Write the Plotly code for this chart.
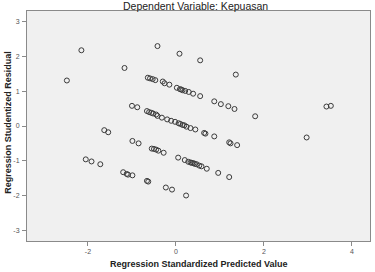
import plotly.graph_objects as go

# Regression Standardized Predicted Value (x) and Studentized Residual (y)
pred_x = [
    -2.48, -2.15, -1.17, -0.42, 0.08, 0.55, 1.36, 1.80, 3.42, 3.52, 2.97,
    # band A
    -0.64, -0.59, -0.53, -0.47, -0.30, -0.26, -0.15, 0.02, 0.09, 0.12, 0.15,
    0.21, 0.29, 0.39, 0.55, 0.87, 1.02, 1.19, 1.33,
    # band B
    -1.00, -0.88, -0.66, -0.61, -0.56, -0.52, -0.45, -0.42, -0.32, -0.20, -0.11,
    -0.02, 0.06, 0.10, 0.15, 0.19, 0.24, 0.33, 0.44, 0.64, 0.67, 0.87, 1.21,
    1.24, 1.39,
    # band C
    -1.63, -1.54, -0.99, -0.85, -0.55, -0.50, -0.45, -0.40, -0.28, 0.05, 0.20,
    0.28, 0.33, 0.36, 0.40, 0.43, 0.47, 0.53, 0.58, 0.70, 0.96, 1.21,
    # band D
    -2.05, -1.92, -1.72, -1.20, -1.12, -1.09, -0.99, -0.66, -0.63, -0.23, -0.09,
    0.23,
]
resid_y = [
    1.31, 2.18, 1.67, 2.30, 2.08, 1.89, 1.48, 0.28, 0.56, 0.58, -0.33,
    # band A
    1.39, 1.37, 1.35, 1.32, 1.28, 1.23, 1.19, 1.10, 1.06, 1.05, 1.03,
    1.01, 0.98, 0.93, 0.86, 0.71, 0.63, 0.57, 0.49,
    # band B
    0.58, 0.54, 0.43, 0.40, 0.38, 0.36, 0.33, 0.29, 0.24, 0.19, 0.15,
    0.12, 0.08, 0.06, 0.03, 0.02, -0.02, -0.06, -0.10, -0.20, -0.22, -0.30, -0.47,
    -0.50, -0.55,
    # band C
    -0.12, -0.18, -0.43, -0.50, -0.65, -0.66, -0.68, -0.71, -0.77, -0.91, -0.98,
    -1.03, -1.05, -1.06, -1.07, -1.09, -1.10, -1.14, -1.16, -1.23, -1.35, -1.47,
    # band D
    -0.96, -1.02, -1.10, -1.33, -1.38, -1.40, -1.42, -1.58, -1.60, -1.77, -1.83,
    -2.00,
]

x_ticks = [-2, 0, 2, 4]
y_ticks = [-3, -2, -1, 0, 1, 2, 3]

title_text = "Dependent Variable: Kepuasan"
x_title = "Regression Standardized Predicted Value"
y_title = "Regression Studentized Residual"

fig = go.Figure()
fig.add_trace(go.Scatter(
    x=pred_x, y=resid_y, mode="markers",
    marker=dict(symbol="circle-open", size=5, color="#3a3a3a",
                line=dict(width=1, color="#3a3a3a")),
    showlegend=False, hoverinfo="skip",
))

axis_common = dict(
    showgrid=False, zeroline=False, showline=True, mirror=True,
    linecolor="#8a8a8a", linewidth=1,
    ticks="outside", ticklen=4, tickcolor="#8a8a8a", tickwidth=1,
    tickfont=dict(family="Liberation Sans, Arial, sans-serif", size=7, color="#555555"),
)

fig.update_layout(
    width=375, height=272,
    margin=dict(l=27, r=5, t=11, b=31),
    paper_bgcolor="white",
    plot_bgcolor="#f0f0f0",
    xaxis=dict(range=[-3.386, 4.41], tickvals=x_ticks, ticktext=[str(v) for v in x_ticks],
               **axis_common),
    yaxis=dict(range=[-3.31, 3.31], tickvals=y_ticks, ticktext=[str(v) for v in y_ticks],
               ticklabelstandoff=1, **axis_common),
    annotations=[
        dict(text=title_text, xref="paper", yref="paper", x=0.49, y=(241 - 5.5) / 230,
             xanchor="center", yanchor="middle", showarrow=False,
             font=dict(family="Liberation Sans, Arial, sans-serif", size=10.5, color="#222222")),
        dict(text="<b>" + x_title + "</b>", xref="paper", yref="paper", x=0.5, y=-0.1,
             xanchor="center", yanchor="middle", showarrow=False,
             font=dict(family="Liberation Sans, Arial, sans-serif", size=9, color="#222222")),
        dict(text="<b>" + y_title + "</b>", xref="paper", yref="paper", x=-0.058, y=0.515,
             xanchor="center", yanchor="middle", showarrow=False, textangle=-90,
             font=dict(family="Liberation Sans, Arial, sans-serif", size=9, color="#222222")),
    ],
)

fig.write_html("out.html")
